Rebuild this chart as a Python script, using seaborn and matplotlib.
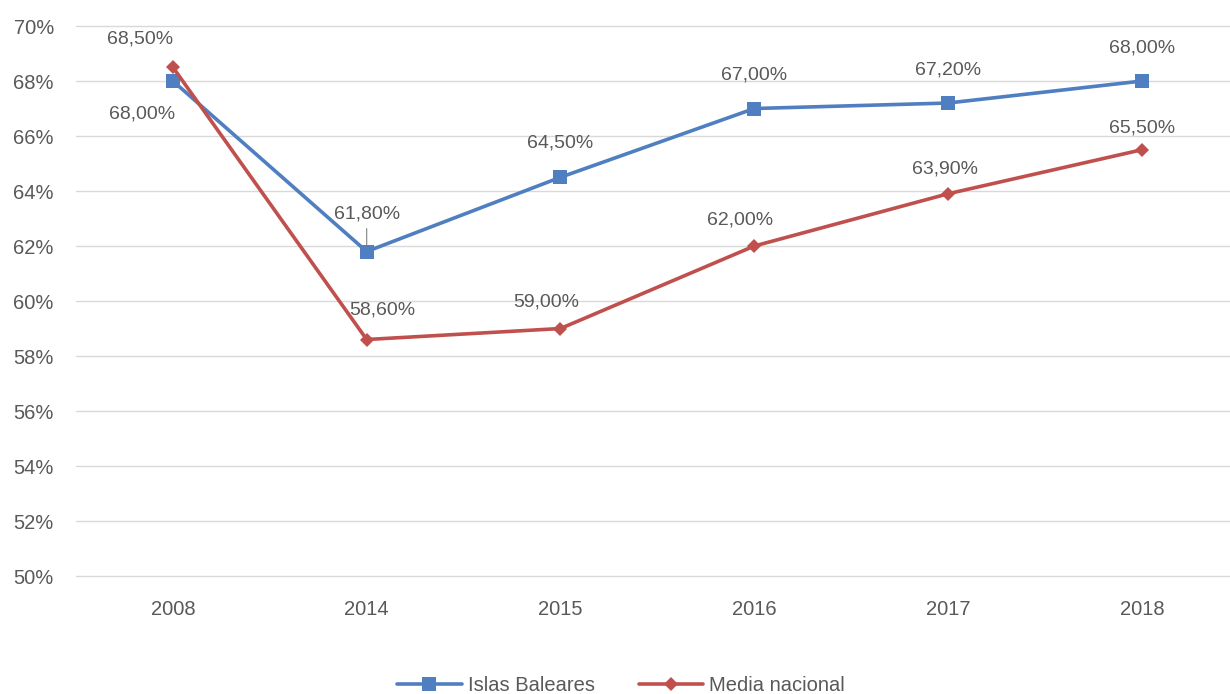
import matplotlib
matplotlib.use("Agg")
import matplotlib.pyplot as plt
import seaborn as sns
import pandas as pd

years = ["2008", "2014", "2015", "2016", "2017", "2018"]
baleares = [68.0, 61.8, 64.5, 67.0, 67.2, 68.0]
nacional = [68.5, 58.6, 59.0, 62.0, 63.9, 65.5]
yticks = [50, 52, 54, 56, 58, 60, 62, 64, 66, 68, 70]
series_names = ["Islas Baleares", "Media nacional"]

sns.set_theme(style="white")
plt.rcParams["font.family"] = ["Liberation Sans", "DejaVu Sans"]

grey = "#595959"
blue = "#4F7FC1"
red = "#C0504D"

df = pd.DataFrame({
    "year": years * 2,
    "value": baleares + nacional,
    "series": [series_names[0]] * len(years) + [series_names[1]] * len(years),
})

fig = plt.figure(figsize=(12.3, 6.94), dpi=100)
ax = fig.add_axes([0.0618, 0.170, 0.9382, 0.7925])

sns.lineplot(data=df[df.series == series_names[0]], x="year", y="value", ax=ax,
             color=blue, lw=2.6, marker="s", markersize=10, markeredgewidth=0,
             label=series_names[0], sort=False)
sns.lineplot(data=df[df.series == series_names[1]], x="year", y="value", ax=ax,
             color=red, lw=2.6, marker="D", markersize=7, markeredgewidth=0,
             label=series_names[1], sort=False)

ax.set_ylim(50, 70)
ax.set_xlim(-0.5, 5.455)
ax.set_yticks(yticks)
ax.set_yticklabels([f"{v}%" for v in yticks])
ax.set_xticks(range(len(years)))
ax.set_xticklabels(years)
ax.set_xlabel("")
ax.set_ylabel("")
ax.grid(axis="y", color="#D9D9D9", lw=1)
for gl in ax.yaxis.get_gridlines():
    gl.set_clip_on(False)
ax.set_axisbelow(True)
for s in ax.spines.values():
    s.set_visible(False)
ax.tick_params(axis="both", length=0, labelsize=14.5, colors=grey)
ax.tick_params(axis="x", pad=17)
ax.tick_params(axis="y", pad=16)

def fmt(v):
    return f"{v:.2f}".replace(".", ",") + "%"

# label offsets in points (dx, dy)
off_b = [(-22, -24), (0, 27), (0, 25), (0, 24), (0, 24), (0, 24)]
off_r = [(-24, 20), (11, 21), (-10, 19), (-10, 19), (-2, 18), (0, 16)]

for i, v in enumerate(baleares):
    kw = {}
    if i == 1:
        kw = dict(arrowprops=dict(arrowstyle="-", color="#808080", lw=0.8, shrinkA=2, shrinkB=5))
    ax.annotate(fmt(v), (i, v), xytext=off_b[i], textcoords="offset points",
                ha="center", va="center", fontsize=14, color=grey, **kw)
for i, v in enumerate(nacional):
    ax.annotate(fmt(v), (i, v), xytext=off_r[i], textcoords="offset points",
                ha="center", va="center", fontsize=14, color=grey)

if ax.legend_:
    ax.legend_.remove()
handles, labels = ax.get_legend_handles_labels()
leg = fig.legend(handles, labels, loc="center", bbox_to_anchor=(0.505, 0.012),
                 ncol=2, frameon=False, fontsize=14.5, handlelength=3.2,
                 columnspacing=2.2, handletextpad=0.3)
for t in leg.get_texts():
    t.set_color(grey)

fig.savefig("out.png", dpi=100, facecolor="white")
